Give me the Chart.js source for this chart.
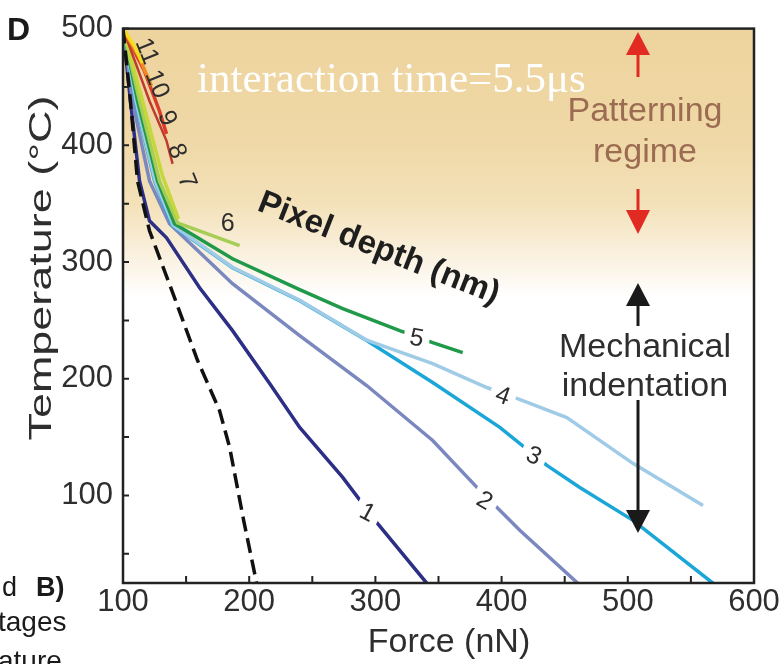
<!DOCTYPE html>
<html>
<head>
<meta charset="utf-8">
<script src="https://cdn.jsdelivr.net/npm/chart.js@4.4.0/dist/chart.umd.min.js"></script>
<style>
  html, body { margin: 0; padding: 0; background: #fff; }
  canvas { display: block; }
</style>
</head>
<body>
<canvas id="chart" width="784" height="664"></canvas>
<script>
// axis ticks
const forceTicks = [100, 200, 300, 400, 500, 600]
const tempTicks = [100, 200, 300, 400, 500]
const minorStep = 50

// [force nN, temperature °C]
const dashedCurve = [[100, 500], [105.9, 438], [111.5, 369.5], [121, 326.8], [140.8, 269.5], [159.1, 215.6], [176.5, 172.8], [184.5, 141.2], [195.6, 78.7], [205.9, 24.8]]
const depth1 = [[100, 500], [105.9, 438], [113.1, 369.5], [121, 335.3], [134.5, 320.8], [160.7, 278], [186.8, 241.2], [216.2, 195.9], [240, 158.3], [274.1, 115.5], [301, 77], [340.7, 24.8]]
const depth2 = [[100, 500], [107.5, 438], [121, 369.5], [136.9, 332.8], [186.8, 281.4], [240, 237], [293.1, 194.2], [345.4, 147.1], [382.7, 104.4], [414.4, 70.2], [460.4, 24.8]]
const depth3 = [[100, 500], [109.9, 438], [125, 369.5], [139.3, 331.1], [186.8, 295.1], [240, 266.9], [293.1, 232.7], [345.4, 196.8], [398.6, 158.3], [435.9, 125.8], [462, 106.9], [504.1, 78.7], [567.5, 24.8]]
const depth4 = [[100, 500], [110.3, 438], [125.5, 369.5], [139.8, 331.4], [186.8, 295.5], [240, 267.3], [293.1, 233], [345.4, 213], [388.3, 192.5], [412.1, 183.1], [451.7, 166.8], [504, 127.5], [559.6, 91.5]]
const depth5 = [[100, 500], [111.5, 438], [127.4, 369.5], [140.8, 332.8], [186.8, 302.8], [240, 276.3], [274.1, 260.1], [319.3, 241.2], [345.4, 231], [369.2, 222.4]]
const depth6 = [[100, 500], [113.1, 438], [128.9, 369.5], [143.2, 333.6], [192.4, 314]]
const depth7 = [[100, 500], [115.5, 438], [131.3, 373.8], [144, 337]]
const depth8 = [[100, 500], [121, 438], [134.5, 403.8], [139.3, 384.1]]
const depth9 = [[100, 500], [117, 463.6], [128.9, 429.4], [134.5, 409.8]]
const depth10 = [[100, 500], [113.1, 474.8], [122.6, 450.8]]
const depth11 = [[100, 500], [109.1, 485], [115.5, 470.5]]

// curve labels (pixel depth, nm) and where they sit
const depthNames = ['1', '2', '3', '4', '5', '6', '7', '8', '9', '10', '11']
const labelForce = [293.9, 386.7, 425.5, 401.0, 332.8, 183.0, 151.1, 143.2, 135.3, 127.4, 119.4]
const labelTemp = [85.6, 95.8, 134.3, 185.6, 235.2, 333.6, 369.5, 395.2, 423.4, 452.5, 480.8]

const font = "'Liberation Sans', Arial, sans-serif"
const ink = '#2e2e2e'

const curves = [depth1, depth2, depth3, depth4, depth5, depth6, depth7, depth8, depth9, depth10, depth11]
const colors = ['#2c2f85', '#7b88bf', '#1ba6d8', '#9fcbe6', '#21994b', '#a6cd55', '#c4d83c', '#bf3b2e', '#da3a2a', '#ef8a24', '#f4df1e']
const widths = [3.5, 3.5, 3.5, 3.5, 3.5, 3.5, 3.5, 2.5, 3.5, 3.5, 3.5]

const toPoints = arr => arr.map(p => ({ x: p[0], y: p[1] }))

const datasets = [{
  data: toPoints(dashedCurve),
  borderColor: '#111',
  borderWidth: 3.5,
  borderDash: [15, 7],
  showLine: true,
  pointRadius: 0,
  order: 0
}]
curves.forEach((c, i) => {
  datasets.push({
    data: toPoints(c),
    borderColor: colors[i],
    borderWidth: widths[i],
    showLine: true,
    pointRadius: 0,
    order: 11 - i
  })
})

const background = {
  id: 'background',
  beforeDatasetsDraw(chart) {
    const { ctx, chartArea: a, scales: { y } } = chart
    const h = a.bottom - a.top
    const stop = t => Math.min(1, Math.max(0, (y.getPixelForValue(t) - a.top) / h))
    const g = ctx.createLinearGradient(0, a.top, 0, a.bottom)
    g.addColorStop(0, '#edd39d')
    g.addColorStop(stop(400), '#f0d9a8')
    g.addColorStop(stop(350), '#f3e1b9')
    g.addColorStop(stop(310), '#f9efdb')
    g.addColorStop(stop(270), '#ffffff')
    g.addColorStop(1, '#ffffff')
    ctx.save()
    ctx.fillStyle = g
    ctx.fillRect(a.left, a.top, a.right - a.left, h)
    ctx.restore()
  }
}

function arrow(ctx, x, tail, base, tip, color) {
  ctx.strokeStyle = color
  ctx.fillStyle = color
  ctx.lineWidth = 3
  ctx.beginPath()
  ctx.moveTo(x, tail)
  ctx.lineTo(x, base)
  ctx.stroke()
  ctx.beginPath()
  ctx.moveTo(x - 12, base)
  ctx.lineTo(x + 12, base)
  ctx.lineTo(x, tip)
  ctx.closePath()
  ctx.fill()
}

const decor = {
  id: 'decor',
  afterDatasetsDraw(chart) {
    const { ctx, chartArea: a, scales: { x, y } } = chart
    ctx.save()

    // curve labels, with a gap cut in the line for 1-5
    const rot = [28, 30, 25, 20, 10, 0, 68, 68, 68, 68, 68]
    ctx.font = '25px ' + font
    ctx.textAlign = 'center'
    ctx.textBaseline = 'middle'
    depthNames.forEach((n, i) => {
      const px = x.getPixelForValue(labelForce[i])
      const py = y.getPixelForValue(labelTemp[i])
      ctx.save()
      ctx.translate(px, py)
      ctx.rotate(rot[i] * Math.PI / 180)
      if (i < 5) {
        ctx.fillStyle = '#fff'
        ctx.fillRect(-13, -12, 26, 24)
      }
      ctx.fillStyle = ink
      ctx.fillText(n, 0, 1)
      ctx.restore()
    })

    // frame
    ctx.strokeStyle = '#222'
    ctx.lineWidth = 2.5
    ctx.strokeRect(a.left, a.top, a.right - a.left, a.bottom - a.top)

    // inward ticks
    ctx.lineWidth = 2
    ctx.beginPath()
    for (let v = forceTicks[0]; v <= forceTicks[forceTicks.length - 1]; v += minorStep) {
      const px = x.getPixelForValue(v)
      ctx.moveTo(px, a.bottom)
      ctx.lineTo(px, a.bottom - 7)
    }
    for (let v = minorStep; v <= tempTicks[tempTicks.length - 1]; v += minorStep) {
      if (v < y.min) continue
      const py = y.getPixelForValue(v)
      ctx.moveTo(a.left, py)
      ctx.lineTo(a.left + 6, py)
    }
    ctx.stroke()

    // annotation text
    ctx.textBaseline = 'alphabetic'
    ctx.fillStyle = '#ffffff'
    ctx.textAlign = 'left'
    ctx.font = "43px 'Liberation Serif', 'Times New Roman', serif"
    ctx.fillText('interaction time=5.5\u03bcs', 197, 92)

    ctx.textAlign = 'center'
    ctx.font = '34px ' + font
    ctx.fillStyle = '#9b6b52'
    ctx.fillText('Patterning', 645, 121)
    ctx.fillText('regime', 645, 162)
    ctx.fillStyle = ink
    ctx.fillText('Mechanical', 645, 357)
    ctx.fillText('indentation', 645, 396)

    ctx.save()
    ctx.translate(256, 210)
    ctx.rotate(21.5 * Math.PI / 180)
    ctx.textAlign = 'left'
    ctx.font = 'bold 33px ' + font
    ctx.fillStyle = '#1e1e1e'
    ctx.fillText('Pixel depth (nm)', 0, 0)
    ctx.restore()

    // arrows
    arrow(ctx, 638, 77, 55, 32, '#e02a22')
    arrow(ctx, 638, 189, 210, 234, '#e02a22')
    arrow(ctx, 638, 326, 306, 283, '#1a1a1a')
    arrow(ctx, 638, 400, 510, 533, '#1a1a1a')

    ctx.restore()
  },
  afterDraw(chart) {
    const { ctx } = chart
    ctx.save()
    ctx.fillStyle = ink

    // axis titles
    ctx.textAlign = 'center'
    ctx.textBaseline = 'alphabetic'
    ctx.font = '34px ' + font
    ctx.fillText('Force (nN)', 449, 652)

    ctx.save()
    ctx.translate(51, 268)
    ctx.rotate(-Math.PI / 2)
    ctx.font = '31px ' + font
    const w = ctx.measureText('Temperature (\u00b0C)').width
    ctx.scale(345 / w, 1)
    ctx.fillText('Temperature (\u00b0C)', 0, 0)
    ctx.restore()

    // panel letter and clipped neighbour text
    ctx.textAlign = 'left'
    ctx.fillStyle = '#1a1a1a'
    ctx.font = 'bold 32px ' + font
    ctx.fillText('D', 7, 40)
    ctx.font = '27px ' + font
    ctx.fillText('d', 2, 596)
    ctx.font = 'bold 27px ' + font
    ctx.fillText('B)', 36, 596)
    ctx.font = '28px ' + font
    ctx.fillText('tages', -2, 631)
    ctx.fillText('ature', -2, 670)
    ctx.restore()
  }
}

new Chart(document.getElementById('chart').getContext('2d'), {
  type: 'scatter',
  data: { datasets },
  options: {
    responsive: false,
    animation: false,
    layout: { padding: { top: 27, right: 30, left: 0, bottom: 0 } },
    plugins: {
      legend: { display: false },
      tooltip: { enabled: false }
    },
    scales: {
      x: {
        type: 'linear',
        min: 100,
        max: 600,
        afterBuildTicks(s) { s.ticks = forceTicks.map(v => ({ value: v })) },
        afterFit(s) { s.height = 81 },
        grid: { display: false, drawTicks: false },
        border: { display: false },
        ticks: {
          color: ink,
          padding: 1,
          maxRotation: 0,
          autoSkip: false,
          font: { family: font, size: 31 }
        }
      },
      y: {
        type: 'linear',
        min: 25,
        max: 500,
        afterBuildTicks(s) { s.ticks = tempTicks.map(v => ({ value: v })) },
        afterFit(s) { s.width = 123 },
        grid: { display: false, drawTicks: false },
        border: { display: false },
        ticks: {
          color: ink,
          padding: 10,
          autoSkip: false,
          font: { family: font, size: 31 }
        }
      }
    }
  },
  plugins: [background, decor]
})
</script>
</body>
</html>
